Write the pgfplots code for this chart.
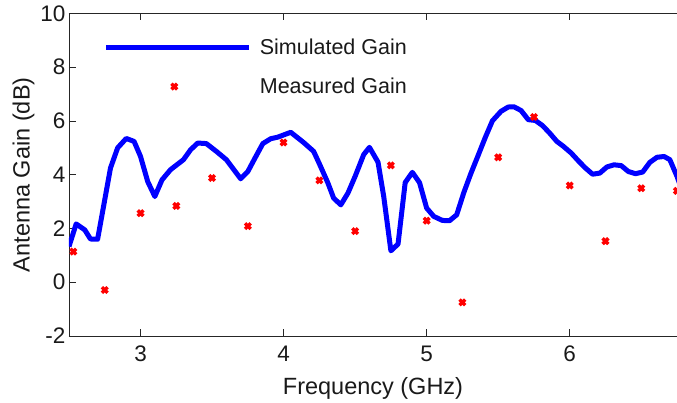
\documentclass[border=0pt]{standalone}
\usepackage{pgfplots}
\pgfplotsset{compat=1.18}
\usepackage{fontspec}
\setmainfont{Liberation Sans}
\newcommand{\fs}{\fontsize{21.5}{26}\selectfont}
\newcommand{\ft}{\fontsize{22.5}{27}\selectfont}
\newcommand{\fl}{\fontsize{23.5}{28}\selectfont}
\begin{document}
\begin{tikzpicture}
\begin{axis}[
  name=ax,
  scale only axis,
  width=608pt, height=322.5pt,
  xmin=2.5, xmax=6.75,
  ymin=-2, ymax=10,
  xtick={3,4,5,6},
  ytick={-2,0,2,4,6,8,10},
  axis y line=left,
  axis x line=box,
  axis line style={-, line width=0.9pt, black!85},
  tick style={line width=0.9pt, black!85},
  tick align=inside,
  major tick length=7pt,
  /pgf/number format/assume math mode=true,
  tick label style={font=\ft, black!90},
  xticklabel style={yshift=-6pt},
  label style={font=\fl, black!90},
  xlabel={Frequency (GHz)},
  ylabel={Antenna Gain (dB)},
  xlabel style={yshift=-9pt},
  ylabel style={yshift=-1pt},
  clip marker paths=true,
  legend style={draw=none, fill=none, font=\fs, text=black!90,
    at={(0.057,0.928)}, anchor=north west, row sep=18pt, inner sep=0pt,
    /tikz/every odd column/.append style={column sep=6pt}},
  legend cell align=left,
  legend image code/.code={\draw[mark repeat=2,mark phase=2,#1] plot coordinates {(0pt,0pt) (68pt,0pt) (143pt,0pt)};},
]
\addplot[blue, line width=5pt, line join=round, no marks] coordinates {
(2.50,1.33) (2.55,2.17) (2.61,1.95) (2.65,1.61) (2.70,1.60) (2.79,4.25) (2.84,5.00) (2.90,5.35) (2.955,5.24) (3.00,4.68) (3.05,3.75) (3.10,3.19) (3.15,3.81) (3.21,4.19) (3.30,4.56) (3.35,4.93) (3.40,5.18) (3.46,5.16) (3.53,4.87) (3.60,4.56) (3.70,3.85) (3.75,4.12) (3.80,4.62) (3.855,5.16) (3.91,5.34) (3.96,5.40) (4.05,5.58) (4.14,5.20) (4.21,4.87) (4.25,4.41) (4.31,3.69) (4.35,3.13) (4.40,2.88) (4.45,3.32) (4.50,3.94) (4.56,4.75) (4.60,5.02) (4.66,4.47) (4.70,3.19) (4.75,1.17) (4.80,1.42) (4.85,3.71) (4.90,4.09) (4.95,3.71) (5.00,2.76) (5.05,2.45) (5.11,2.30) (5.16,2.29) (5.21,2.51) (5.26,3.34) (5.31,4.06) (5.36,4.72) (5.41,5.39) (5.46,6.01) (5.52,6.36) (5.57,6.52) (5.61,6.53) (5.66,6.39) (5.71,6.05) (5.76,6.02) (5.81,5.83) (5.86,5.55) (5.91,5.24) (5.955,5.06) (6.01,4.81) (6.06,4.52) (6.11,4.25) (6.16,4.02) (6.21,4.06) (6.26,4.29) (6.31,4.37) (6.36,4.34) (6.41,4.12) (6.46,4.04) (6.51,4.10) (6.56,4.46) (6.61,4.65) (6.66,4.68) (6.70,4.56) (6.75,3.94) (6.80,3.20)
};
\addlegendentry{Simulated Gain}
\addplot[only marks, red, mark=x, mark size=4pt, mark options={line width=3.4pt, red}] coordinates {
(2.53,1.14) (2.75,-0.29) (3.00,2.57) (3.25,2.84) (3.50,3.88) (3.75,2.09) (4.00,5.20) (4.25,3.79) (4.50,1.90) (4.75,4.35) (5.00,2.29) (5.25,-0.75) (5.50,4.65) (5.75,6.15) (6.00,3.60) (6.25,1.53) (6.50,3.50) (6.75,3.40)
};
\addlegendentry{Measured Gain}
\end{axis}
\pgfresetboundingbox
\path (ax.south west) ++(-69pt,-66pt) rectangle ([yshift=13.5pt]ax.north east);
\end{tikzpicture}
\end{document}
